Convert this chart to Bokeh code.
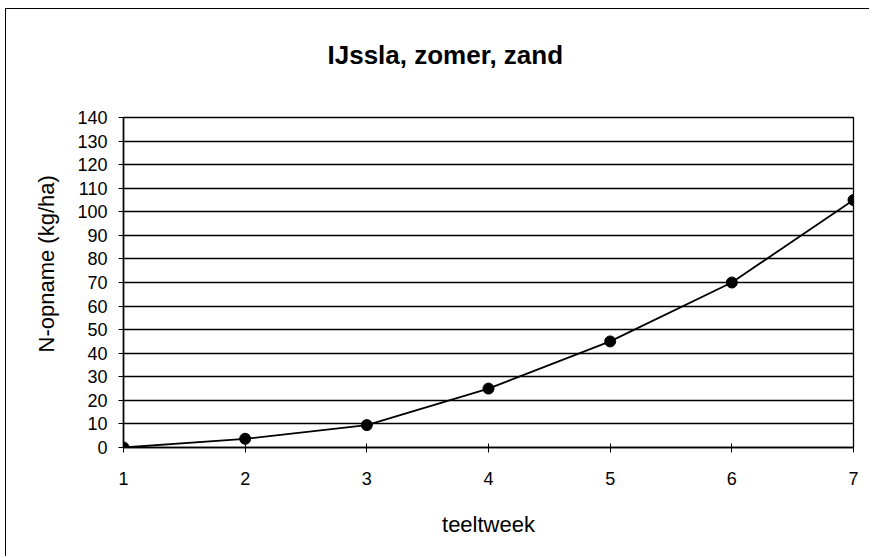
from bokeh.plotting import figure
from bokeh.models import Range1d, FixedTicker, Title
from bokeh.embed import file_html
from bokeh.resources import INLINE

# data
weeks = [1, 2, 3, 4, 5, 6, 7]
n_uptake = [0, 3.7, 9.5, 25, 45, 70, 105]
y_ticks = list(range(0, 141, 10))
title_text = "IJssla, zomer, zand"
x_label = "teeltweek"
y_label = "N-opname (kg/ha)"

FONT = "Liberation Sans"

p = figure(width=864, height=548, output_backend="svg", toolbar_location=None,
           x_range=Range1d(1, 7), y_range=Range1d(0, 140),
           min_border_left=117, min_border_right=17, min_border_top=108, min_border_bottom=110)
p.margin = (8, 0, 0, 5)
p.styles = {"border-left": "1px solid black", "border-top": "1px solid black"}

p.outline_line_color = "black"
p.outline_line_width = 1.3
p.background_fill_color = "white"
p.border_fill_color = "white"

p.xgrid.grid_line_color = None
p.ygrid.grid_line_color = "black"
p.ygrid.grid_line_width = 1.5
p.ygrid.grid_line_alpha = 1

p.xaxis.ticker = FixedTicker(ticks=weeks)
p.yaxis.ticker = FixedTicker(ticks=y_ticks)
p.xaxis.minor_tick_line_color = None
p.yaxis.minor_tick_line_color = None
p.xaxis.major_tick_in = 4
p.xaxis.major_tick_out = 5
p.yaxis.major_tick_in = 0
p.yaxis.major_tick_out = 5
for ax in (p.xaxis, p.yaxis):
    ax.axis_line_color = "black"
    ax.axis_line_width = 1.5
    ax.major_tick_line_color = "black"
    ax.major_tick_line_width = 1
    ax.major_label_text_font = FONT
    ax.major_label_text_font_size = "18px"
    ax.major_label_text_color = "black"
    ax.axis_label_text_font = FONT
    ax.axis_label_text_font_size = "22px"
    ax.axis_label_text_font_style = "normal"
    ax.axis_label_text_color = "black"

p.xaxis.axis_label = x_label
p.xaxis.major_label_standoff = 19
p.xaxis.axis_label_standoff = 24
p.yaxis.major_label_standoff = 11

p.line(weeks, n_uptake, line_color="black", line_width=1.8)
p.scatter(weeks, n_uptake, size=11, fill_color="black", line_color="black")

# main title (a trailing blank line lifts it towards the top of the chart area)
t = Title(text=title_text + "\n ", align="left", offset=204, standoff=35,
          text_font=FONT, text_font_size="26px", text_font_style="bold", text_color="black")
p.add_layout(t, "above")

# y axis label as a vertical title on the left
yl = Title(text=y_label, align="left", offset=95, standoff=32,
           text_font=FONT, text_font_size="22px", text_font_style="normal", text_color="black")
p.add_layout(yl, "left")

open("out.html", "w").write(file_html(p, INLINE))
